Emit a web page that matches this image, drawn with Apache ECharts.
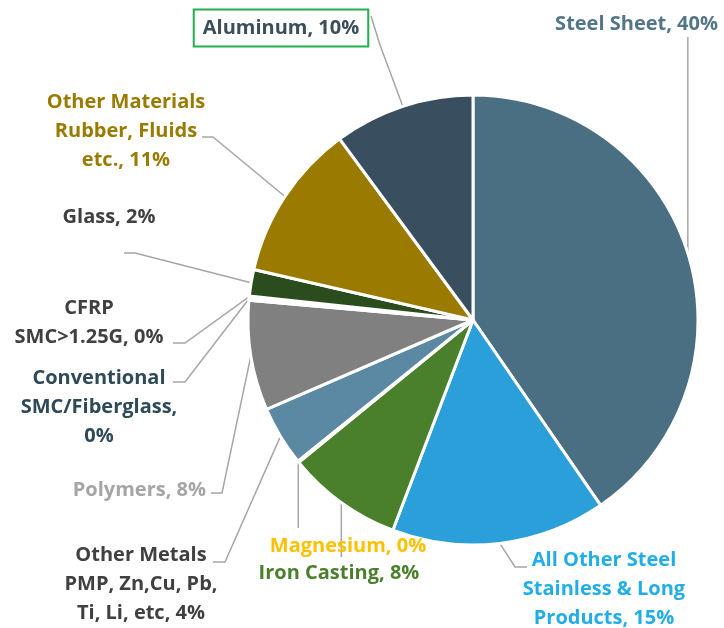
<!DOCTYPE html>
<html>
<head>
<meta charset="utf-8">
<script src="https://cdn.jsdelivr.net/npm/echarts@6/dist/echarts.min.js"></script>
<style>
  html, body { margin: 0; padding: 0; background: #fff; }
  #chart { width: 724px; height: 628px; }
</style>
</head>
<body>
<div id="chart"></div>
<script>
// slices, clockwise from 12 o'clock
const names = ['Steel Sheet', 'All Other Steel', 'Iron Casting', 'Magnesium', 'Other Metals',
  'Polymers', 'Conventional SMC/Fiberglass', 'CFRP SMC>1.25G', 'Glass', 'Other Materials', 'Aluminum'];
const labelTexts = ['Steel Sheet, {p}%', 'All Other Steel\nStainless & Long\nProducts, {p}%', 'Iron Casting, {p}%',
  'Magnesium, {p}%', 'Other Metals\nPMP, Zn,Cu, Pb,\nTi, Li, etc, {p}%', 'Polymers, {p}%',
  'Conventional\nSMC/Fiberglass,\n{p}%', 'CFRP\nSMC>1.25G, {p}%', 'Glass, {p}%',
  'Other Materials\nRubber, Fluids\netc., {p}%', 'Aluminum, {p}%'];
const values = [40.4, 15.4, 8.3, 0.1, 4.3, 7.9, 0.2, 0.1, 1.9, 11.3, 10.1];
const sliceColors = ['#4b6f82', '#2a9fd9', '#4a7f2c', '#ffc000', '#5b88a2', '#808080',
  '#2e4a58', '#404040', '#2b4d1e', '#9a7b00', '#394f5f'];
const labelColors = ['#527688', '#21aee8', '#4a7f2c', '#ffc000', '#404040', '#a5a5a5',
  '#2e4a58', '#404040', '#404040', '#9a7b00', '#3c4e5a'];

// label placement and leader-line routing (null x = straight down/up from the slice)
const guides = [
  { x: 718, y: 24, align: 'right', pts: [[null, 140], [null, 37]] },
  { x: 604, y: 589, align: 'center', pts: [[515, 567], [527, 567]] },
  { x: 339, y: 573, align: 'center', pts: [[null, 530], [null, 557]] },
  { x: 348, y: 546, align: 'center', pts: [[null, 500], [null, 528]] },
  { x: 141, y: 584, align: 'center', pts: [[225, 562], [213, 562]] },
  { x: 206, y: 490, align: 'right', pts: [[222, 493], [211, 493]] },
  { x: 99, y: 407, align: 'center', pts: [[185, 382], [173, 382]] },
  { x: 89, y: 323, align: 'center', pts: [[185, 343], [173, 343]] },
  { x: 109, y: 217, align: 'center', pts: [[135, 253], [124, 253]] },
  { x: 126, y: 131, align: 'center', pts: [[213, 137], [202, 137]] },
  { x: 281, y: 28, align: 'center', pts: [[380, 45], [371, 16]] }
];

const data = names.map((n, i) => {
  const item = {
    name: n,
    value: values[i],
    itemStyle: { color: sliceColors[i] },
    label: { color: labelColors[i] }
  };
  if (n === 'Aluminum') {
    item.label.borderColor = '#22b04c';
    item.label.borderWidth = 2;
    item.label.padding = [5, 9, 3, 9];
  }
  return item;
});

const chart = echarts.init(document.getElementById('chart'));

const option = {
  animation: false,
  series: [
    {
      type: 'pie',
      center: [473, 320],
      radius: 225,
      startAngle: 90,
      clockwise: true,
      avoidLabelOverlap: false,
      data: data,
      itemStyle: { borderColor: '#fff', borderWidth: 3 },
      label: {
        show: true,
        position: 'outside',
        fontFamily: 'Open Sans',
        fontWeight: 'bold',
        fontSize: 20,
        lineHeight: 29,
        formatter: function (p) {
          return labelTexts[p.dataIndex].replace('{p}', Math.round(p.percent));
        }
      },
      labelLine: {
        show: true,
        lineStyle: { color: '#a6a6a6', width: 1.5 }
      },
      labelLayout: function (params) {
        const g = guides[params.dataIndex];
        const out = { x: g.x, y: g.y, align: g.align, verticalAlign: 'middle' };
        const lp = params.labelLinePoints;
        if (lp && lp.length) {
          const start = lp[0];
          out.labelLinePoints = [start].concat(g.pts.map(p => [p[0] == null ? start[0] : p[0], p[1]]));
        }
        return out;
      }
    }
  ]
};

chart.setOption(option);
window.addEventListener('resize', function () {
  chart.resize();
});
</script>
</body>
</html>
